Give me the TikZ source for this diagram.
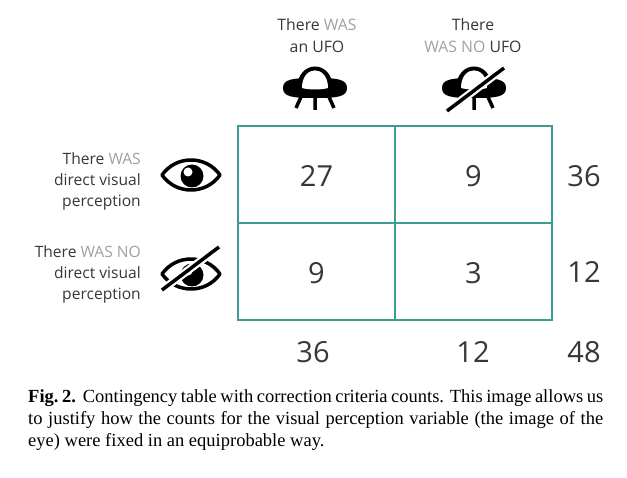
\documentclass[tikz,border=0pt]{standalone}
\usepackage{fontspec}
\setmainfont{Open Sans}
\newfontfamily\capfont{Liberation Serif}
\usepackage{tikz}
\usetikzlibrary{positioning}
\usepackage{xcolor}
\definecolor{tealline}{RGB}{60,158,146}
\definecolor{darktext}{RGB}{55,55,55}
\definecolor{graytext}{RGB}{160,160,160}

\tikzset{
  ufo/.pic={
    \fill (-32,0) .. controls (-32,-9) and (-22,-10) .. (0,-10) .. controls (22,-10) and (32,-9) .. (32,0)
      .. controls (32,9) and (22,10) .. (0,10) .. controls (-22,10) and (-32,9) .. cycle;
    \fill (-18,1) .. controls (-18,-29) and (18,-29) .. (18,1) -- cycle;
    \fill[white] (-13,0) .. controls (-13,-23.5) and (13,-23.5) .. (13,0) .. controls (6,2) and (-6,2) .. cycle;
    \draw[line width=3.5] (-14,9) -- (-19,20) (0,9) -- (0,22) (14,9) -- (19,20);
  },
  noufo/.pic={
    \pic {ufo};
    \draw[white, line width=8] (30,-20) -- (-27,23);
    \draw[line width=3.5] (30,-20) -- (-27,23);
  },
  eye/.pic={
    \draw[line width=3.5, line join=round] (-29,0) .. controls (-15,-20) and (15,-20) .. (29,0) .. controls (15,20) and (-15,20) .. cycle;
    \fill (1,1) circle [radius=11.5];
    \fill[white] (-3,-3) circle [radius=4.5];
  },
  noeye/.pic={
    \pic {eye};
    \draw[white, line width=8] (28,-27) -- (-29,16);
    \draw[line width=3.5] (28,-27) -- (-29,16);
  }
}

\begin{document}
\begin{tikzpicture}[x=1pt, y=-1pt]
      \useasboundingbox (0,0) rectangle (627,478);
      \tikzstyle{cell} = [draw=tealline, line width=2, minimum width=157pt, minimum height=97pt, inner sep=0, text height=25pt, text depth=0pt, font=\fontsize{29}{34}\selectfont, text=darktext]
      \tikzstyle{count} = [inner sep=0, font=\fontsize{29}{34}\selectfont, text=darktext]
      \tikzstyle{head} = [align=center, inner sep=0, font=\fontsize{15.8}{22}\selectfont, text=darktext]
      \tikzstyle{side} = [align=right, inner sep=0, anchor=east, font=\fontsize{15.6}{21}\selectfont, text=darktext]
      \tikzstyle{caption} = [text width=575pt, align=justify, inner sep=0, font=\capfont\fontsize{18.5}{22}\selectfont, text=black]

      \foreach \name/\x/\y/\n in {
        c11/316.5/174.5/27, c12/473.5/174.5/9,
        c21/316.5/271.5/9, c22/473.5/271.5/3
      } {
        \node[cell] (\name) at (\x,\y) {\n};
      }

      \node[count] (r1) at (584,176) {36};
      \node[count] (r2) at (584,272) {12};
      \node[count] (s1) at (313,352) {36};
      \node[count] (s2) at (473,352) {12};
      \node[count] (total) at (584,352) {48};

      \node[head] (hufo) at (317,36) {There \textcolor{graytext}{WAS}\\an UFO};
      \node[head] (hnoufo) at (473,36) {There\\\textcolor{graytext}{WAS NO} UFO};
      \pic at (315,88) {ufo};
      \pic at (474,88) {noufo};

      \node[side] (heye) at (141,181) {There \textcolor{graytext}{WAS}\\direct visual\\perception};
      \node[side] (hnoeye) at (141,274) {There \textcolor{graytext}{WAS NO}\\direct visual\\perception};
      \pic at (191,175) {eye};
      \pic at (191,274) {noeye};

      \node[caption, anchor=north west] (cap) at (28,389) {\textbf{Fig.~2.}\ \ Contingency table with correction criteria counts. This image allows us\linebreak to justify how the counts for the visual perception variable (the image of the\linebreak eye) were fixed in an equiprobable way.};
    \end{tikzpicture}
\end{document}
